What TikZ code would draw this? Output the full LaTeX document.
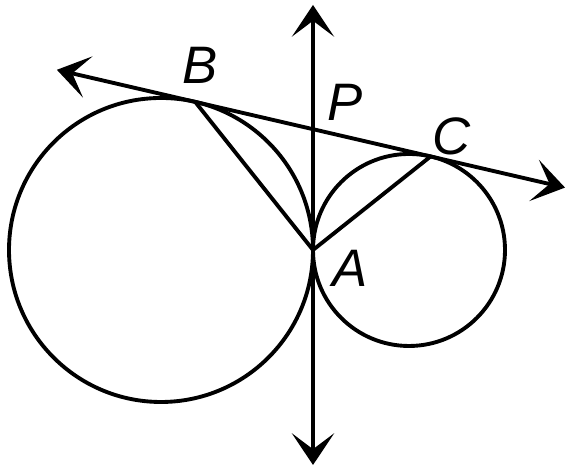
\documentclass[tikz,border=0pt]{standalone}
\usepackage{fontspec}
\setmainfont{Liberation Sans}
\usepackage{tikz}
\usetikzlibrary{arrows.meta, calc}

\begin{document}
\begin{tikzpicture}[line width=1.1pt,
    lbl/.style={font=\fontsize{15}{17}\selectfont\itshape, inner sep=0pt},
    dbl/.style={{Stealth[length=9pt,width=12pt,inset=4.5pt]}-{Stealth[length=9pt,width=12pt,inset=4.5pt]}}]
          \useasboundingbox (0,0) rectangle (5.66,4.69);
          % tangent point and the two centres
          \coordinate (A) at (3.13,2.19);
          \coordinate (O1) at ($(A)+(-1.52,0)$);
          \coordinate (O2) at ($(A)+(0.96,0)$);
          \coordinate (B) at ($(O1)+(77:1.52)$);
          \coordinate (C) at ($(O2)+(77:0.96)$);
          \coordinate (top) at (3.13,4.64);
          \coordinate (bot) at (3.13,0.04);
          \coordinate (P) at (intersection of B--C and top--bot);
          \coordinate (L) at ($(B)!-1.42cm!(C)$);
          \coordinate (R) at ($(C)!-1.38cm!(B)$);
          \draw (O1) circle (1.52);
          \draw (O2) circle (0.96);
          \draw[dbl] (bot) -- (top);
          \draw[dbl] (L) -- (R);
          \draw (B) -- (A) -- (C);
          \node[lbl] (labB) at ($(B)+(0.05,0.37)$) {B};
          \node[lbl] (labP) at ($(P)+(0.32,0.27)$) {P};
          \node[lbl] (labC) at ($(C)+(0.21,0.20)$) {C};
          \node[lbl] (labA) at ($(A)+(0.37,-0.18)$) {A};
        \end{tikzpicture}
\end{document}
